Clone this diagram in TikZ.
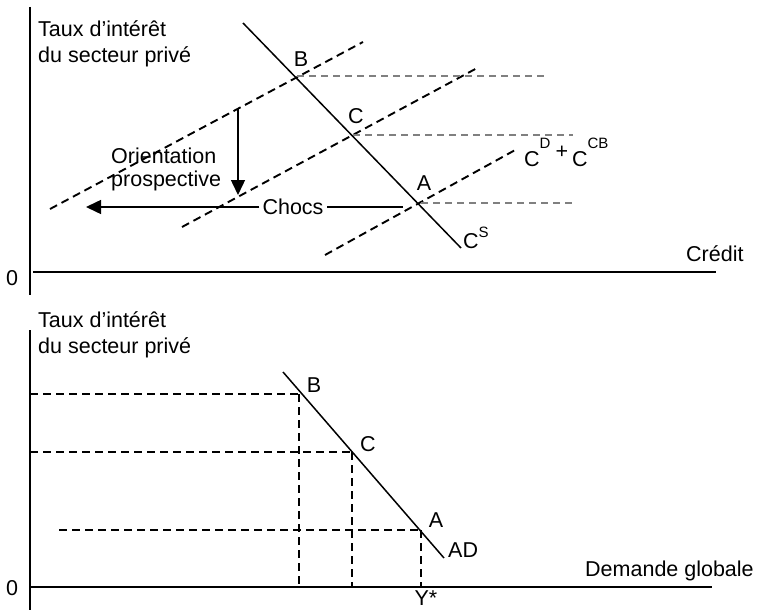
\documentclass[tikz,border=0pt]{standalone}
\usepackage{fontspec}
\setmainfont{Liberation Sans}
\usetikzlibrary{arrows.meta}
\begin{document}
\begin{tikzpicture}[x=1pt,y=-1pt,
  axis/.style={line width=1.8pt},
  curve/.style={line width=1.5pt},
  bdash/.style={line width=1.9pt, dash pattern=on 8pt off 5pt},
  gdash/.style={line width=1.5pt, gray, dash pattern=on 7pt off 5pt},
  lbl/.style={inner sep=0pt, font=\fontsize{21.5}{26}\selectfont},
  arr/.style={line width=1.5pt, -{Triangle[length=15pt,width=14pt]}},
]
\useasboundingbox (0,0) rectangle (758,610);
% ---------- top panel ----------
\coordinate (tyTop) at (30,7);
\coordinate (tyBot) at (30,295);
\coordinate (txL) at (33,272);
\coordinate (txR) at (716,272);
\draw[axis] (tyTop) -- (tyBot);
\draw[axis] (txL) -- (txR);
\node[lbl] (zero1) at (12,278) {0};
\node[lbl, anchor=base west] (ylab1a) at (38,37) {Taux d’intérêt};
\node[lbl, anchor=base west] (ylab1b) at (38,63) {du secteur privé};
\node[lbl, anchor=base west] (credit) at (686,261) {Crédit};

% credit supply
\coordinate (csA) at (243,23);
\coordinate (csB) at (461,248);
\draw[curve] (csA) -- (csB);
\node[lbl, anchor=base west] (cslab) at (463,248) {C\raisebox{11pt}{\fontsize{15}{15}\selectfont S}};

% demand curves (dashed)
\coordinate (u1) at (50,209);  \coordinate (u2) at (363,42);
\coordinate (m1) at (182,227); \coordinate (m2) at (479,67);
\coordinate (l1) at (325,255); \coordinate (l2) at (517,149);
\draw[bdash] (u1) -- (u2);
\draw[bdash] (m1) -- (m2);
\draw[bdash] (l1) -- (l2);
\node[lbl, anchor=base west] (cdlab) at (524,166)
  {C\raisebox{18pt}{\fontsize{15}{15}\selectfont D}\hspace{5pt}\raisebox{8pt}{+}\hspace{4pt}C\raisebox{18pt}{\fontsize{15}{15}\selectfont CB}};

% intersections
\coordinate (Bt) at (297,76);
\coordinate (Ct) at (353,135);
\coordinate (At) at (418,203);
\coordinate (Bg) at (546,76);
\coordinate (Cg) at (573,135);
\coordinate (Ag) at (572,203);
\draw[gdash] (Bt) -- (Bg);
\draw[gdash] (Ct) -- (Cg);
\draw[gdash] ([xshift=3pt]At) -- (Ag);
\node[lbl] (Btl) at (301,59) {B};
\node[lbl] (Ctl) at (356,116) {C};
\node[lbl] (Atl) at (424,183) {A};

% arrows
\coordinate (dA) at (238,109);
\coordinate (dB) at (238,195);
\draw[arr] (dA) -- (dB);
\node[lbl, anchor=base west] (ori1) at (111,163) {Orientation};
\node[lbl, anchor=base west] (ori2) at (111,186) {prospective};
\coordinate (chR) at (403,207);
\coordinate (chL) at (86,207);
\node[lbl, inner xsep=3pt] (chocs) at (293,207) {Chocs};
\draw[curve] (chR) -- (chocs.east);
\draw[arr] (chocs.west) -- (chL);

% ---------- bottom panel ----------
\coordinate (byTop) at (30,330);
\coordinate (byBot) at (30,610);
\coordinate (bxL) at (30,587);
\coordinate (bxR) at (712,587);
\draw[axis] (byTop) -- (byBot);
\draw[axis] (bxL) -- (bxR);
\node[lbl] (zero2) at (12,588) {0};
\node[lbl, anchor=base west] (ylab2a) at (38,327) {Taux d’intérêt};
\node[lbl, anchor=base west] (ylab2b) at (38,353) {du secteur privé};
\node[lbl, anchor=base west] (dglab) at (585,576) {Demande globale};

\coordinate (adA) at (283,372);
\coordinate (adB) at (444,558);
\draw[curve] (adA) -- (adB);
\node[lbl, anchor=base west] (adlab) at (448,557) {AD};

\coordinate (Bb) at (299,394);
\coordinate (Cb) at (352,452);
\coordinate (Ab) at (421,530);
\coordinate (BbL) at (30,394);
\coordinate (CbL) at (30,452);
\coordinate (AbL) at (59,530);
\coordinate (BbD) at (299,587);
\coordinate (CbD) at (352,587);
\coordinate (AbD) at (421,587);
\draw[bdash] (BbL) -- (Bb);
\draw[bdash] (CbL) -- (Cb);
\draw[bdash] (AbL) -- (Ab);
\draw[bdash] (Bb) -- (BbD);
\draw[bdash] (Cb) -- (CbD);
\draw[bdash] (Ab) -- (AbD);
\node[lbl] (Bbl) at (314,385) {B};
\node[lbl] (Cbl) at (368,444) {C};
\node[lbl] (Abl) at (436,520) {A};
\node[lbl, anchor=base] (ystar) at (426,605) {Y*};
\end{tikzpicture}
\end{document}
